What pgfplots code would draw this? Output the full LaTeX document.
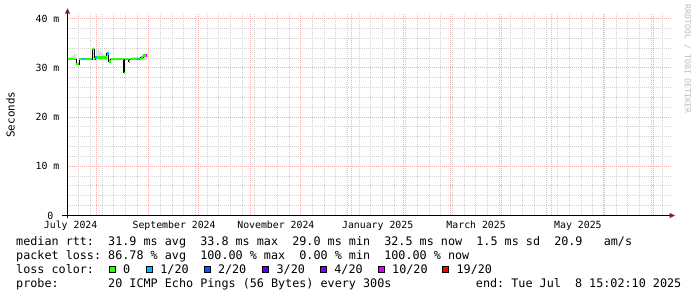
\documentclass[border=0pt]{standalone}
\usepackage{fontspec}
\usepackage{pgfplots}
\pgfplotsset{compat=1.18}
\newfontfamily\rrd{DejaVu Sans Mono}
\definecolor{lc0}{HTML}{26FF00}
\definecolor{lc1}{HTML}{00B8FF}
\definecolor{lc2}{HTML}{0059FF}
\definecolor{lc3}{HTML}{5E00FF}
\definecolor{lc4}{HTML}{7E00FF}
\definecolor{lc10}{HTML}{DD00FF}
\definecolor{lc19}{HTML}{FF0000}
\definecolor{gridgray}{HTML}{D2D2D2}
\definecolor{gridred}{HTML}{F0AEAE}
\definecolor{arrowred}{HTML}{8B1A1A}
\definecolor{smoke}{HTML}{DCDCDC}
\definecolor{wmark}{HTML}{BDBDBD}
\newcommand\legfont{\rrd\fontsize{11.76bp}{14bp}\selectfont}
\newcommand\tickfont{\rrd\fontsize{9.85bp}{11bp}\selectfont}
\tikzset{
  mingrid/.style={draw=gridgray, line width=1bp, dash pattern=on 1bp off 1bp},
  majgrid/.style={draw=gridred, line width=1bp, dash pattern=on 1bp off 1bp},
}
\begin{document}
\begin{tikzpicture}
\fill[white] (0,0) rectangle (697bp,297bp);
\useasboundingbox (0,0) rectangle (697bp,297bp);
% ---- grid (pixel-aligned), drawn beneath the axis ----
\begin{scope}[x=1bp,y=1bp]
\foreach \k in {0,...,50}{
  \pgfmathsetmacro\c{round(78.31+11.68*\k)+0.5}
  \draw[mingrid] (\c,81.5) -- (\c,282.5);
}
\foreach \v in {2,4,...,38}{
  \pgfmathsetmacro\r{296.5-round(215-4.9175*\v)}
  \draw[mingrid] (67.5,\r) -- (670.5,\r);
}
\foreach \c in {96,148,198,250,300,351,403,450,501,551,603,653}{
  \draw[majgrid] (\c+0.5,81.5) -- (\c+0.5,282.5);
}
\foreach \r in {166,117,67,18}{
  \draw[majgrid] (67.5,296.5-\r) -- (670.5,296.5-\r);
}
\end{scope}
\begin{axis}[
  at={(67.5bp,81.5bp)}, anchor=south west,
  scale only axis, width=603bp, height=201bp,
  xmin=13.62, xmax=375.0, ymin=0, ymax=40.87,
  axis line style={draw=none},
  tick style={draw=none},
  xtick={15.5,77.5,138.5,199.5,258.5,319.5},
  xticklabels={July~2024,September~2024,November~2024,January~2025,March~2025,May~2025},
  ytick={0,10,20,30,40},
  yticklabels={0~~,10~m,20~m,30~m,40~m},
  ticklabel style={font=\tickfont, inner sep=0pt},
  xticklabel style={anchor=base, yshift=-13.3bp},
  yticklabel style={anchor=east, xshift=-8bp},
]
% smoke (polygon: upper steps, then lower edge back)
\addplot[fill=smoke, draw=none, forget plot] coordinates {
(13.4,31.6) (13.4,31.9) (14.4,31.9) (14.4,32.2) (16.0,32.2) (16.0,32.5) (17.6,32.5) (17.6,32.8) (19.0,32.8) (19.0,31.6)
(20.8,31.6) (20.8,31.9) (28.4,31.9) (28.4,34.2) (29.8,34.2) (29.8,32.2) (30.8,32.2) (30.8,33.8) (32.4,33.8) (32.4,33.6)
(33.4,33.6) (33.4,33.2) (34.4,33.2) (34.4,32.8) (35.4,32.8) (35.4,32.4) (37.0,32.4) (37.0,33.2) (38.4,33.2) (38.4,31.9)
(52.4,31.9) (52.4,32.2) (57.4,32.2) (57.4,32.4) (58.4,32.4) (58.4,32.8) (61.4,32.8) (61.4,31.6)} -- cycle;
% median (black steps)
\addplot[black, line width=1bp, const plot] coordinates {
(13.4,31.8) (19.0,30.8) (20.8,31.8) (28.4,33.8) (29.8,31.8) (30.4,32.1) (37.0,32.9) (38.4,31.3) (39.4,31.8) (47.4,29.0) (48.0,31.8) (50.4,31.3) (51.0,31.8) (57.4,32.1) (59.0,32.5) (61.4,32.5)};
% loss 0
\addplot[lc0, line width=2.4bp, unbounded coords=jump] coordinates {
(13.4,31.8) (19.0,31.8) (19.0,nan)
(19.0,30.8) (20.8,30.8) (20.8,nan)
(20.8,31.8) (22.4,31.8) (22.4,nan)
(24.4,31.8) (28.4,31.8) (28.4,nan)
(28.4,33.8) (29.8,33.8) (29.8,nan)
(29.8,31.8) (30.4,31.8) (30.4,nan)
(31.0,32.1) (37.0,32.1) (37.0,nan)
(38.4,31.3) (39.4,31.3) (39.4,nan)
(39.4,31.8) (47.4,31.8) (47.4,nan)
(47.4,29.0) (48.0,29.0) (48.0,nan)
(48.0,31.8) (50.4,31.8) (50.4,nan)
(50.4,31.3) (51.0,31.3) (51.0,nan)
(51.0,31.8) (55.4,31.8) (55.4,nan)
(57.0,31.8) (57.4,31.8) (57.4,nan)
(57.4,32.1) (59.0,32.1) (59.0,nan)
(59.0,32.5) (60.4,32.5)};
% loss 1/20
\addplot[lc1, line width=2.4bp, unbounded coords=jump] coordinates {
(22.4,31.8) (24.4,31.8) (24.4,nan)
(30.4,32.1) (31.0,32.1) (31.0,nan)
(37.0,32.9) (38.4,32.9) (38.4,nan)
(55.4,31.8) (57.0,31.8)};
% loss 10/20
\addplot[lc10, line width=2.4bp] coordinates {(60.4,32.5) (61.4,32.5)};
\end{axis}
\begin{scope}[x=1bp,y=1bp]
% axes with arrows
\draw[black, line width=1bp] (62,81.5) -- (671,81.5);
\draw[black, line width=1bp] (67.5,78.5) -- (67.5,284);
\fill[arrowred] (675,81.5) -- (669.5,84.2) -- (669.5,78.8) -- cycle;
\fill[arrowred] (67.5,288.7) -- (64.8,283.3) -- (70.2,283.3) -- cycle;
% labels
\node[rotate=90, font=\rrd\fontsize{10.9bp}{12bp}\selectfont, inner sep=0pt] at (10.5,182.3) {Seconds};
\node[rotate=-90, font=\rrd\fontsize{8.2bp}{9bp}\selectfont, text=wmark, inner sep=0pt] at (687.5,237.8) {RRDTOOL~/~TOBI~OETIKER};
% legend
\node[anchor=base west, inner sep=0pt, font=\legfont] at (16,51.7) {median~rtt:~~31.9~ms~avg~~33.8~ms~max~~29.0~ms~min~~32.5~ms~now~~1.5~ms~sd~~20.9~~~am/s};
\node[anchor=base west, inner sep=0pt, font=\legfont] at (16,37.7) {packet~loss:~86.78~\%~avg~~100.00~\%~max~~0.00~\%~min~~100.00~\%~now};
\node[anchor=base west, inner sep=0pt, font=\legfont] at (16,23.7) {loss~color:};
\foreach \bx/\col in {109/lc0, 146/lc1, 204/lc2, 262/lc3, 320/lc4, 378/lc10, 442/lc19}{
  \filldraw[fill=\col, draw=black, line width=1bp] (\bx+0.5,24.5) rectangle (\bx+6.5,30.5);
}
\node[anchor=base west, inner sep=0pt, font=\legfont] at (122.9,23.7) {0};
\node[anchor=base west, inner sep=0pt, font=\legfont] at (160.2,23.7) {1/20};
\node[anchor=base west, inner sep=0pt, font=\legfont] at (217.8,23.7) {2/20};
\node[anchor=base west, inner sep=0pt, font=\legfont] at (276.4,23.7) {3/20};
\node[anchor=base west, inner sep=0pt, font=\legfont] at (334.2,23.7) {4/20};
\node[anchor=base west, inner sep=0pt, font=\legfont] at (392,23.7) {10/20};
\node[anchor=base west, inner sep=0pt, font=\legfont] at (456.4,23.7) {19/20};
\node[anchor=base west, inner sep=0pt, font=\legfont] at (16,9.7) {probe:~~~~~~~20~ICMP~Echo~Pings~(56~Bytes)~every~300s};
\node[anchor=base east, inner sep=0pt, font=\legfont] at (681.5,9.7) {end:~Tue~Jul~~8~15:02:10~2025};
\end{scope}
\end{tikzpicture}
\end{document}
